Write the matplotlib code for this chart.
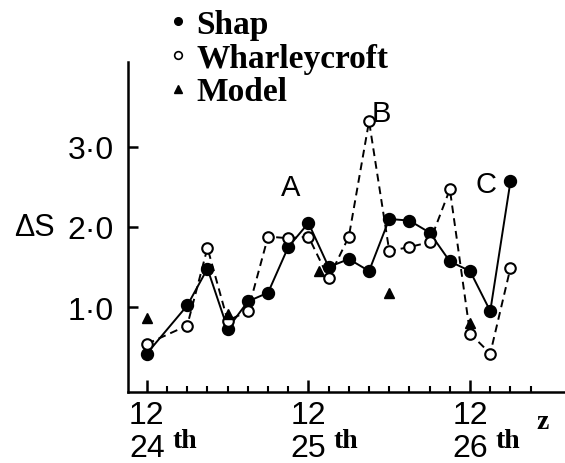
import matplotlib
matplotlib.use('Agg')
import matplotlib.pyplot as plt
from matplotlib.lines import Line2D

# hours after 00Z on the 24th, sampled every 3 h
shap_hours = [12, 18, 21, 24, 27, 30, 33, 36, 39, 42, 45, 48, 51, 54, 57, 60, 63, 66]
shap = [0.42, 1.02, 1.48, 0.73, 1.07, 1.18, 1.75, 2.05, 1.50, 1.60,
        1.45, 2.10, 2.08, 1.93, 1.57, 1.45, 0.95, 2.57]

wharley_hours = [12, 18, 21, 24, 27, 30, 33, 36, 39, 42, 45, 48, 51, 54, 57, 60, 63, 66]
wharley = [0.54, 0.77, 1.74, 0.83, 0.95, 1.88, 1.86, 1.88, 1.36, 1.88,
           3.32, 1.70, 1.75, 1.81, 2.47, 0.67, 0.42, 1.49]

model_hours = [12, 24, 37.5, 48, 60]
model = [0.86, 0.92, 1.45, 1.18, 0.80]

y_ticks = [1, 2, 3]
y_labels = ['1·0', '2·0', '3·0']
day_hours = [12, 36, 60]
days = ['24', '25', '26']

events = ['A', 'B', 'C']
event_x = [33.4, 46.8, 62.4]
event_y = [2.50, 3.42, 2.54]

sans = 'Liberation Sans'
serif_bold = dict(family='Liberation Serif', weight='bold')

fig = plt.figure(figsize=(5.65, 4.64), dpi=100)
ax = fig.add_axes([128 / 565, 1 - 393 / 464, 1 - 128 / 565, 330 / 464])

ax.plot(shap_hours, shap, color='black', lw=1.4, marker='o', ms=8.6,
        mfc='black', mec='black', zorder=3)
ax.plot(wharley_hours, wharley, color='black', lw=1.4, dashes=(4, 2.6),
        marker='o', ms=7.6, mfc='white', mec='black', mew=1.5, zorder=4)
ax.plot(model_hours, model, ls='none', marker='^', ms=7, color='black', zorder=5)

for lab, x, y in zip(events, event_x, event_y):
    ax.text(x, y, lab, ha='center', va='center', fontsize=21,
            family=sans, zorder=6)

ax.set_xlim(9.2, 74.1)
ax.set_ylim(-0.06, 4.06)

for s in ['top', 'right']:
    ax.spines[s].set_visible(False)
for s in ['left', 'bottom']:
    ax.spines[s].set_linewidth(1.8)

ax.set_yticks(y_ticks, labels=y_labels)
ax.tick_params(axis='y', direction='in', length=7, width=1.8, pad=10,
               labelsize=23)
for t in ax.get_yticklabels():
    t.set_family(sans)

ax.set_xticks(day_hours, labels=['12\n' + d for d in days])
ax.set_xticks(range(12, 70, 3), minor=True)
ax.tick_params(axis='x', which='major', direction='in', length=9, width=1.8,
               pad=6, labelsize=23)
ax.tick_params(axis='x', which='minor', direction='in', length=4.5, width=1.5)
for t in ax.get_xticklabels():
    t.set_family(sans)
    t.set_linespacing(1.1)

for h in day_hours:
    ax.annotate('th', xy=(h, 0), xycoords=('data', 'axes fraction'),
                xytext=(27, -35), textcoords='offset points',
                ha='center', va='center', fontsize=20, **serif_bold)
ax.annotate('z', xy=(day_hours[-1], 0), xycoords=('data', 'axes fraction'),
            xytext=(52, -21), textcoords='offset points',
            ha='center', va='center', fontsize=20, **serif_bold)

ax.set_ylabel('ΔS', rotation=0, fontsize=22, family=sans,
              ha='center', va='center')
ax.yaxis.set_label_coords(-0.215, 0.5)

handles = [
    Line2D([], [], ls='none', marker='o', ms=5.5, mfc='black', mec='black'),
    Line2D([], [], ls='none', marker='o', ms=5.5, mfc='white', mec='black', mew=1.2),
    Line2D([], [], ls='none', marker='^', ms=5.5, color='black'),
]
fig.legend(handles, ['Shap', 'Wharleycroft', 'Model'],
           loc='upper left', bbox_to_anchor=(165 / 565, 1 - 10 / 464),
           frameon=False, borderpad=0, borderaxespad=0, handlelength=0.8,
           handletextpad=0.15, labelspacing=0.08,
           prop=dict(size=24, **serif_bold))

fig.savefig('out.png', dpi=100)
